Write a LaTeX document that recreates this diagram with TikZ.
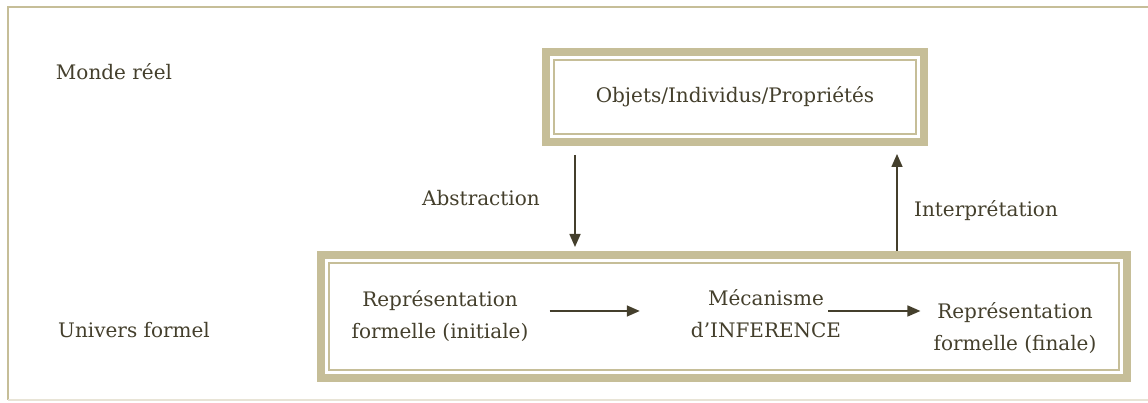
\documentclass[tikz,border=0pt]{standalone}
\usepackage{fontspec}
\setmainfont{DejaVu Serif}
\usetikzlibrary{arrows.meta,calc}
\definecolor{cadre}{RGB}{198,190,152}
\definecolor{pale}{RGB}{232,228,214}
\definecolor{encre}{RGB}{68,63,44}

\begin{document}
\begin{tikzpicture}[x=1pt,y=1pt,
		txt/.style={text=encre,font=\fontsize{20}{32}\selectfont,align=center,inner sep=0pt},
		boite/.style={draw=cadre,line width=8pt,outer sep=0pt,inner sep=0pt},
		fleche/.style={draw=encre,line width=1.6pt,-{Triangle[length=13pt,width=11pt]}}]
		%%%%% START %%%%%
		\useasboundingbox (0,0) rectangle (1148,403);
		
		\draw[cadre,line width=2pt] (1148,396) -- (8,396) -- (8,3);
		\draw[pale,line width=1.5pt] (8,3) -- (1148,3);
		
		\node[txt] (reel) at (114,331) {Monde réel};
		\node[txt] (formel) at (134,73) {Univers formel};
		
		\node[boite,txt,minimum width=378pt,minimum height=90pt] (objets) at (735,306) {Objets/Individus/Propriétés};
		\draw[cadre,line width=2pt] ($(objets.north west)+(8,-8)$) rectangle ($(objets.south east)+(-8,8)$);
		
		\node[boite,minimum width=806pt,minimum height=123pt] (univers) at (724,86.5) {};
		\draw[cadre,line width=2pt] ($(univers.north west)+(8,-8)$) rectangle ($(univers.south east)+(-8,8)$);
		
		\node[txt] (ini) at (440,87) {Représentation\\formelle (initiale)};
		\node[txt] (infer) at (766,89) {Mécanisme\\d’INFERENCE};
		\node[txt] (fin) at (1015,75) {Représentation\\formelle (finale)};
		
		\coordinate (fy) at (0,92);
		\draw[fleche,shorten <=21pt,shorten >=51pt] (ini.east |- fy) -- (infer.west |- fy);
		\draw[fleche,shorten <=-13pt,shorten >=13pt] (infer.east |- fy) -- (fin.west |- fy);
		
		\coordinate (absx) at (575,0);
		\coordinate (intx) at (897,0);
		\draw[fleche,shorten <=13pt,shorten >=8pt] (objets.south -| absx) -- (univers.north -| absx);
		\draw[fleche,shorten <=4pt,shorten >=12pt] (univers.north -| intx) -- (objets.south -| intx);
		
		\node[txt] (abs) at (481,205) {Abstraction};
		\node[txt] (interp) at (986,192) {Interprétation};
		%%%%% END %%%%%
	\end{tikzpicture}
\end{document}
